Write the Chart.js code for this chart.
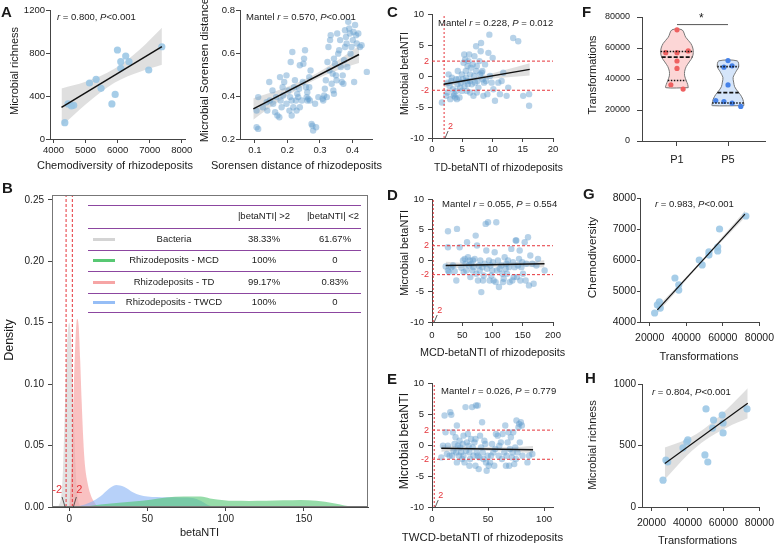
<!DOCTYPE html>
<html>
<head>
<meta charset="utf-8">
<script src="https://cdn.jsdelivr.net/npm/chart.js@4.4.1/dist/chart.umd.min.js"></script>
<style>
body { margin:0; width:780px; height:545px; overflow:hidden; background:#fff; position:relative;
  font-family:"Liberation Sans", Arial, Helvetica, sans-serif; color:#1a1a1a; }
canvas { position:absolute; }
.lt { position:absolute; font-weight:bold; font-size:15px; line-height:15px; }
.ann { position:absolute; font-size:9.5px; line-height:12px; white-space:nowrap; }
.tl { position:absolute; left:88px; width:273px; height:1px; background:rgb(140,70,160); }
.tc { position:absolute; font-size:9.5px; line-height:12px; white-space:nowrap; transform:translate(-50%,-50%); }
.sw { position:absolute; left:93px; width:22px; height:3px; }
</style>
</head>
<body>
<script>
// ---- data ----
// A (left): chemodiversity vs microbial richness
const aChemo = [4354, 4455, 4560, 4630, 5123, 5329, 5483, 5821, 5923, 5994, 6098, 6098, 6252, 6354, 6969, 7378];
const aRich = [152, 326, 307, 313, 521, 555, 471, 326, 415, 828, 719, 657, 772, 719, 642, 858];
const aFitX = [4250, 7380], aFitY = [295, 860];
const aBandX = [4250, 5000, 5900, 6700, 7380];
const aBandLo = [120, 322, 523, 626, 690];
const aBandHi = [470, 532, 653, 836, 1035];

// A (right): Sorensen distances
const sorX = [0.110,0.110,0.105,0.124,0.136,0.138,0.146,0.144,0.154,0.156,0.162,0.165,0.169,0.175,0.177,0.179,0.182,0.185,0.187,0.190,0.197,0.197,0.203,0.206,0.208,0.210,0.213,0.213,0.215,0.218,0.220,0.223,0.226,0.228,0.230,0.233,0.236,0.238,0.238,0.244,0.247,0.249,0.251,0.254,0.257,0.259,0.261,0.261,0.264,0.267,0.267,0.269,0.271,0.274,0.277,0.279,0.288,0.285,0.295,0.308,0.310,0.313,0.315,0.318,0.321,0.323,0.326,0.329,0.331,0.333,0.336,0.339,0.341,0.343,0.343,0.346,0.349,0.351,0.353,0.356,0.359,0.362,0.364,0.367,0.370,0.372,0.374,0.377,0.377,0.380,0.382,0.384,0.387,0.390,0.392,0.394,0.397,0.401,0.403,0.405,0.408,0.411,0.413,0.418,0.423,0.428,0.444,0.105];
const sorY = [0.395,0.247,0.332,0.348,0.371,0.332,0.379,0.465,0.426,0.364,0.325,0.395,0.309,0.301,0.488,0.379,0.348,0.441,0.402,0.465,0.496,0.364,0.426,0.332,0.395,0.558,0.379,0.309,0.605,0.348,0.441,0.473,0.379,0.332,0.410,0.395,0.434,0.348,0.543,0.379,0.465,0.550,0.574,0.613,0.441,0.395,0.379,0.418,0.387,0.488,0.441,0.379,0.519,0.270,0.262,0.239,0.255,0.364,0.395,0.387,0.379,0.402,0.434,0.473,0.395,0.558,0.628,0.519,0.660,0.683,0.457,0.504,0.426,0.410,0.574,0.550,0.496,0.473,0.691,0.597,0.613,0.660,0.535,0.465,0.496,0.457,0.566,0.628,0.706,0.675,0.644,0.535,0.745,0.714,0.691,0.597,0.628,0.660,0.698,0.465,0.730,0.683,0.644,0.691,0.628,0.636,0.512,0.255];
const sorFitX = [0.095, 0.42], sorFitY = [0.34, 0.593];
const sorBandX = [0.095, 0.18, 0.27, 0.35, 0.42];
const sorBandLo = [0.29, 0.381, 0.464, 0.518, 0.553];
const sorBandHi = [0.39, 0.431, 0.490, 0.562, 0.633];

// B: density of betaNTI
const bacX = [-7, -5, -4, -3, -2, -1, 0, 1, 2, 3, 4, 5, 7];
const bacD = [0, 0.01, 0.03, 0.07, 0.11, 0.14, 0.15, 0.14, 0.11, 0.07, 0.035, 0.012, 0];
const tdDX = [0, 1, 2, 3, 4, 5, 6, 7, 8, 9, 10, 12, 14, 16, 18];
const tdD = [0, 0.02, 0.045, 0.1, 0.135, 0.153, 0.148, 0.12, 0.085, 0.055, 0.035, 0.018, 0.009, 0.004, 0];
const twDX = [4, 10, 14, 20, 25, 30, 35, 41, 45, 50, 62, 72, 79, 84, 88, 92];
const twD = [0, 0.002, 0.004, 0.0087, 0.0145, 0.018, 0.0165, 0.0118, 0.0098, 0.0086, 0.008, 0.0078, 0.0073, 0.005, 0.002, 0];
const mcdDX = [8, 20, 30, 41, 52, 62, 73, 84, 90, 99, 105, 115, 126, 137, 148, 158, 169, 176, 182];
const mcdD = [0, 0.002, 0.0032, 0.0045, 0.006, 0.0078, 0.0086, 0.0085, 0.007, 0.0055, 0.005, 0.0049, 0.005, 0.0054, 0.0057, 0.005, 0.003, 0.0012, 0];
const tabNames = ['Bacteria', 'Rhizodeposits - MCD', 'Rhizodeposits - TD', 'Rhizodeposits - TWCD'];
const tabGt2 = ['38.33%', '100%', '99.17%', '100%'];
const tabLt2 = ['61.67%', '0', '0.83%', '0'];

// C: TD-betaNTI
const tdX = [1.64,2.36,2.58,2.74,2.90,3.01,3.18,3.45,3.56,3.67,3.84,4.00,4.11,4.22,4.27,4.38,4.55,4.66,4.77,4.93,5.10,5.21,5.32,5.37,5.48,5.59,5.64,5.75,5.86,5.92,6.03,6.14,6.30,6.30,6.41,6.58,6.74,6.85,6.96,7.01,7.12,7.29,7.29,7.40,7.51,7.67,7.84,7.95,8.05,8.11,8.22,8.33,8.38,8.49,8.60,8.77,8.93,9.15,9.32,9.48,9.59,9.86,10.03,10.14,10.41,10.96,11.23,11.51,11.78,12.33,12.60,13.42,14.25,15.07,16.05,16.05,2.58,3.29,4.00,4.93,5.75,6.30,7.40];
const tdY = [-4.27,-3.2,-2.67,0.27,-1.6,-3.73,-0.8,-2.13,-3.2,-2.93,-3.47,-2.4,-3.73,-1.33,0.8,-0.53,-3.47,-1.87,-1.07,0.27,-0.53,2.13,3.47,-1.6,2.67,0.8,-0.27,-0.8,1.6,-1.33,2.4,3.47,0.27,-0.8,1.33,-1.33,1.87,-3.2,0,3.2,-1.07,0.8,4.8,1.6,-0.8,-1.87,2.4,0.27,4.0,5.33,0.53,0.8,-0.53,-3.2,-1.07,1.87,-0.8,-2.93,3.73,6.67,0,-1.07,2.93,-2.13,-4.0,-1.07,-2.93,-0.8,0.53,-3.2,-1.87,6.13,5.6,-3.2,-2.93,-4.8,-1.07,-0.27,-0.53,-2.4,-2.4,-2.67,-2.67];
const tdFitX = [1.92, 16.16], tdFitY = [-1.33, 1.07];
const tdBandX = [1.92, 5, 8, 12, 16.16];
const tdBandLo = [-1.83, -1.11, -0.61, -0.23, 0.07];
const tdBandHi = [-0.83, -0.51, -0.01, 0.97, 2.07];

// D: MCD-betaNTI
const mcdX = [22.6,26.4,26.4,28.1,32.0,37.5,40.2,41.3,45.7,48.5,51.2,52.3,54.0,55.6,56.7,57.9,59.5,61.2,62.3,63.4,65.0,66.7,67.8,68.9,70.5,72.2,73.3,74.4,76.0,77.7,78.8,79.9,81.5,83.2,84.3,85.4,87.1,88.7,89.8,90.9,92.6,94.2,95.3,96.4,98.1,99.7,100.8,101.9,103.6,105.2,106.3,107.4,109.1,110.7,111.8,114.6,116.3,117.4,118.5,120.1,121.8,122.9,124.0,125.6,127.3,128.4,131.1,132.8,133.9,135.0,136.6,138.3,139.4,140.5,142.1,143.8,144.9,146.0,147.7,149.3,150.4,153.2,154.8,155.9,158.7,160.3,162.5,165.8,168.0,172.5,175.2,186.2,26.4,34.7];
const mcdY = [-0.97,4.76,2.16,-1.89,-1.08,-1.73,-3.24,5.14,2.16,-1.19,0,-1.89,0.27,-0.54,-1.62,2.97,0.54,-0.81,0,-2.7,-0.54,-1.62,0,-1.08,0.27,4.05,-2.16,2.43,-3.24,-0.81,-1.62,0,-5.14,-1.08,-3.24,-2.43,-0.54,5.95,1.62,-1.35,6.22,0,-3.24,-0.81,-2.43,-1.62,-0.27,-3.24,1.35,-3.51,6.22,-1.62,0,-4.32,-1.35,-0.81,-2.16,-3.51,-2.97,0.54,-1.35,-0.54,-2.16,0,-1.08,-3.51,1.89,-3.24,-0.27,-2.7,-1.08,3.24,3.24,-2.7,-0.81,0.27,1.62,-3.24,-1.08,-0.27,-2.16,2.97,-3.24,-0.54,3.78,-4.05,0.81,-0.54,-3.78,-0.81,0.27,-1.62,-1.62,-0.81];
const mcdFitX = [22.6, 186], mcdFitY = [-0.81, -0.54];
const mcdBandX = [22.6, 60, 100, 140, 186];
const mcdBandLo = [-1.41, -1.1, -1.0, -0.96, -1.14];
const mcdBandHi = [-0.21, -0.4, -0.36, -0.26, 0.06];

// E: TWCD-betaNTI
const twX = [8.3,11.2,12.1,14.2,15.7,16.3,17.2,18.6,19.2,20.1,21.0,21.6,22.2,23.1,24.0,24.6,25.1,26.0,26.9,27.5,28.1,29.0,29.9,30.5,31.1,32.0,32.8,33.4,34.0,34.9,35.8,36.4,37.0,37.9,38.8,39.3,39.9,40.8,41.7,42.3,42.9,43.8,44.7,45.3,45.9,46.7,47.6,48.2,48.8,49.7,50.6,51.8,52.7,53.6,54.7,55.6,56.5,57.1,58.6,59.5,60.1,61.5,62.4,63.0,64.5,65.4,66.0,66.6,67.5,68.3,68.9,69.5,70.4,71.3,71.9,72.5,73.4,74.3,74.9,75.4,76.3,77.2,77.8,78.4,79.3,80.2,80.8,85.2,86.7,89.6,9.8,13.3,18.0,22.2,28.1,33.4,38.8,40.8];
const twY = [-2.0,4.76,2.05,-0.11,-1.73,5.3,4.86,2.05,-0.92,0.16,1.24,-1.19,3.14,-0.11,-1.73,0.7,-0.38,-1.19,-2.27,0.16,1.51,-2.81,6.11,-0.92,0.43,1.78,-0.11,-1.19,-2.27,0.97,6.11,-0.38,-1.73,0.43,0.97,6.38,-1.19,6.38,-3.89,-2.0,1.51,-0.38,3.68,-1.19,-2.27,0.7,0.16,-2.81,-4.16,-1.73,-3.35,-2.81,-1.73,0.16,-1.19,-3.35,-0.65,1.78,1.51,-1.73,-0.11,0.43,-2.27,1.78,-1.19,3.14,-3.35,-1.73,0.43,2.05,-3.35,-0.65,1.24,-2.0,-1.19,2.05,-3.08,-0.38,-2.27,3.95,-1.19,2.86,3.41,0.43,3.68,3.14,-1.73,-2.81,-1.73,-1.46,-0.11,-1.46,-1.73,-2.81,-1.73,-3.35,-3.35,-1.73];
const twFitX = [8.3, 90.2], twFitY = [-0.54, -0.76];
const twBandX = [8.3, 30, 50, 70, 90.2];
const twBandLo = [-1.1, -0.9, -0.95, -1.05, -1.35];
const twBandHi = [0.02, -0.3, -0.35, -0.37, -0.17];

// F: transformations, violins
const fCats = ['P1', 'P5'];
const p1Val = [71700, 57000, 57000, 58100, 51600, 46800, 36300, 33500];
const p1Jit = [0, -0.22, 0, 0.22, 0, 0, -0.12, 0.12];
const p5Val = [51900, 47600, 48500, 36200, 26100, 25500, 24400, 22300];
const p5Jit = [0, -0.08, 0.08, 0, -0.24, -0.08, 0.08, 0.25];
const p1Lv = [71700, 67000, 63000, 60000, 57000, 54000, 51000, 48000, 45000, 42000, 39000, 36500, 34400];
const p1Hw = [0.10, 0.17, 0.27, 0.31, 0.32, 0.30, 0.24, 0.18, 0.15, 0.15, 0.18, 0.21, 0.22];
const p5Lv = [51700, 48000, 45000, 41000, 38000, 35000, 32000, 30000, 27000, 24000, 22800];
const p5Hw = [0.18, 0.21, 0.16, 0.10, 0.11, 0.13, 0.19, 0.24, 0.29, 0.31, 0.31];
const p1Q = [57700, 54100, 39000], p1QW = [0.32, 0.30, 0.18];
const p5Q = [48000, 31200, 24500], p5QW = [0.21, 0.21, 0.31];
const sigY = 75100;

// G / H: transformations vs chemodiversity / richness
const gTrans = [22700, 24200, 25300, 25800, 33800, 35900, 35900, 47100, 48700, 52400, 52400, 57200, 57200, 58200, 72600];
const gChemo = [4290, 4550, 4650, 4450, 5420, 5200, 5030, 6000, 5840, 6260, 6160, 6290, 6420, 7000, 7420];
const gFitX = [24200, 72100], gFitY = [4390, 7480];
const gBandX = [24200, 48000, 72100], gBandLo = [4290, 5880, 7370], gBandHi = [4490, 5970, 7590];
const hTrans = [26400, 28000, 29000, 37500, 39600, 40200, 49700, 51300, 50300, 54500, 54000, 59300, 59800, 59800, 73100];
const hRich = [218, 382, 366, 480, 528, 545, 423, 366, 797, 707, 642, 748, 683, 602, 797];
const hFitX = [27400, 73500], hFitY = [354, 843];
const hBandX = [27400, 40000, 50000, 62000, 73500];
const hBandLo = [224, 423, 544, 647, 721];
const hBandHi = [484, 553, 644, 797, 965];

// ---- helpers ----
const FAM = '"Liberation Sans", Arial, Helvetica, sans-serif';
const AX = '#444', TXT = '#1a1a1a', RED = '#e5343a';
const PT1 = 'rgba(150,196,228,0.85)', PT2 = 'rgba(95,155,205,0.45)', BAND = 'rgba(185,185,185,0.45)';

// extra marks: box frame, red reference labels, and axis titles drawn without width squeezing
const extras = {
  id: 'extras',
  afterDraw(chart, args, o) {
    const { ctx, chartArea: a, scales: { x, y } } = chart;
    ctx.save();
    if (o.box) {
      ctx.strokeStyle = '#777'; ctx.lineWidth = 1;
      ctx.strokeRect(a.left + 0.5, a.top + 0.5, a.width - 1, a.height - 1);
    }
    ctx.fillStyle = RED;
    ctx.font = (o.fs || 9) + 'px ' + FAM;
    ctx.textBaseline = 'middle';
    (o.h || []).forEach(h => {
      ctx.textAlign = 'right';
      ctx.fillText(h.t, a.left - 3, y.getPixelForValue(h.v));
    });
    (o.v || []).forEach(v => {
      const px = x.getPixelForValue(v.v), b = a.bottom;
      ctx.strokeStyle = '#333'; ctx.lineWidth = 0.8;
      ctx.beginPath(); ctx.moveTo(px + v.s * 1, b); ctx.lineTo(px + v.s * 4, b - v.len); ctx.stroke();
      ctx.textAlign = v.s > 0 ? 'left' : 'right';
      ctx.fillText(v.t, px + v.s * 4, b - v.len - v.gap);
    });
    ctx.fillStyle = TXT;
    ctx.textAlign = 'center';
    if (o.xt) {
      ctx.font = (o.xt.fs || 11) + 'px ' + FAM;
      ctx.fillText(o.xt.t, o.xt.cx != null ? o.xt.cx : (a.left + a.right) / 2, o.xt.at);
    }
    if (o.yt) {
      ctx.font = (o.yt.fs || 11) + 'px ' + FAM;
      ctx.translate(o.yt.at, o.yt.cy != null ? o.yt.cy : (a.top + a.bottom) / 2);
      ctx.rotate(-Math.PI / 2);
      ctx.fillText(o.yt.t, 0, 0);
    }
    ctx.restore();
  }
};
Chart.register(extras);

function xy(xs, ys) { return xs.map((x, i) => ({ x, y: ys[i] })); }
function pts(xs, ys, color, r) {
  return { data: xy(xs, ys), showLine: false, pointRadius: r, pointBackgroundColor: color, pointBorderWidth: 0 };
}
function line(xs, ys, color, w, dash) {
  return { data: xy(xs, ys), showLine: true, pointRadius: 0, borderColor: color, borderWidth: w, borderDash: dash || [], fill: false };
}
function band(xs, lo, hi) {
  return [
    { data: xy(xs, hi), showLine: true, pointRadius: 0, borderWidth: 0, borderColor: 'rgba(0,0,0,0)', fill: '+1', backgroundColor: BAND, cubicInterpolationMode: 'monotone' },
    { data: xy(xs, lo), showLine: true, pointRadius: 0, borderWidth: 0, borderColor: 'rgba(0,0,0,0)', fill: false, cubicInterpolationMode: 'monotone' }
  ];
}
function dens(xs, ds, color) {
  return { data: xy(xs, ds), showLine: true, pointRadius: 0, borderWidth: 0, borderColor: 'rgba(0,0,0,0)', fill: 'origin', backgroundColor: color, cubicInterpolationMode: 'monotone' };
}
function scale(o) {
  return {
    type: 'linear', min: o.min, max: o.max,
    afterBuildTicks: s => { s.ticks = o.ticks.map(v => ({ value: v })); },
    afterFit: s => { if (s.isHorizontal()) s.height = o.fit; else s.width = o.fit; },
    grid: { display: true, drawOnChartArea: false, drawTicks: true, tickLength: o.tl || 4, color: AX, tickColor: AX },
    border: { display: true, color: AX, width: 1 },
    ticks: { font: { family: FAM, size: o.tf || 9.5 }, color: TXT, padding: o.tp == null ? 2 : o.tp, maxRotation: 0, autoSkip: false,
      callback: (v, i) => o.labels ? o.labels[i] : String(v) },
    title: { display: false }
  };
}
function panel(box, datasets, xs, ys, pad, plug) {
  const c = document.createElement('canvas');
  c.width = box[2]; c.height = box[3];
  c.style.left = box[0] + 'px'; c.style.top = box[1] + 'px';
  document.body.appendChild(c);
  return new Chart(c, {
    type: 'scatter',
    data: { datasets },
    options: {
      responsive: false, animation: false, events: [], devicePixelRatio: 1,
      layout: { padding: Object.assign({ left: 0, top: 0, right: 0, bottom: 0 }, pad) },
      scales: { x: xs, y: ys },
      plugins: { legend: { display: false }, tooltip: { enabled: false }, extras: plug || {} }
    }
  });
}
function violin(c, lv, hw) {
  const p = [];
  for (let i = lv.length - 1; i >= 0; i--) p.push({ x: c + hw[i], y: lv[i] });
  for (let i = 0; i < lv.length; i++) p.push({ x: c - hw[i], y: lv[i] });
  p.push(p[0]);
  return p;
}
function quarts(c, q, w) {
  return q.map((v, i) => ({
    data: [{ x: c - w[i], y: v }, { x: c + w[i], y: v }], showLine: true, pointRadius: 0,
    borderColor: '#111', borderWidth: i === 1 ? 1.8 : 1.6, borderDash: i === 1 ? [4, 2] : [1.5, 1.5]
  }));
}

// ---- A left ----
panel([0, 0, 200, 173], [
  line(aFitX, aFitY, '#111', 1.5),
  pts(aChemo, aRich, PT1, 3.6),
  ...band(aBandX, aBandLo, aBandHi)
], scale({ min: 3892, max: 8100, ticks: [4000, 5000, 6000, 7000, 8000], fit: 34, tp: 2 }),
   scale({ min: 0, max: 1200, ticks: [0, 400, 800, 1200], fit: 42, tp: 1 }),
   { left: 8, top: 10, right: 15 },
   { xt: { t: 'Chemodiversity of rhizodeposits', at: 166, cx: 115 }, yt: { t: 'Microbial richness', at: 15, cy: 71 } });

// ---- A right ----
panel([190, 0, 200, 173], [
  line(sorFitX, sorFitY, '#111', 1.5),
  pts(sorX, sorY, PT2, 3.2),
  ...band(sorBandX, sorBandLo, sorBandHi)
], scale({ min: 0.054, max: 0.46, ticks: [0.1, 0.2, 0.3, 0.4], labels: ['0.1', '0.2', '0.3', '0.4'], fit: 34, tp: 2 }),
   scale({ min: 0.2, max: 0.8, ticks: [0.2, 0.4, 0.6, 0.8], labels: ['0.2', '0.4', '0.6', '0.8'], fit: 42, tp: 1 }),
   { left: 8, top: 10, right: 18 },
   { xt: { t: 'Sorensen distance of rhizodeposits', at: 166, cx: 106.5 }, yt: { t: 'Microbial Sorensen distance', at: 15, cy: 70, fs: 11.5 } });

// ---- B ----
panel([0, 185, 375, 355], [
  line([-2, -2], [0, 0.254], RED, 1, [3, 2]),
  line([2, 2], [0, 0.254], RED, 1, [3, 2]),
  dens(mcdDX, mcdD, 'rgba(80,196,112,0.6)'),
  dens(twDX, twD, 'rgba(135,178,245,0.6)'),
  dens(tdDX, tdD, 'rgba(246,160,160,0.65)'),
  dens(bacX, bacD, 'rgba(200,200,200,0.55)')
], scale({ min: -11, max: 191, ticks: [0, 50, 100, 150], fit: 33, tp: 2, tf: 10 }),
   scale({ min: 0, max: 0.254, ticks: [0, 0.05, 0.1, 0.15, 0.2, 0.25], labels: ['0.00', '0.05', '0.10', '0.15', '0.20', '0.25'], fit: 49, tp: 4, tf: 10 }),
   { left: 3, top: 7, right: 7 },
   { box: true, fs: 11, v: [{ v: -2, t: '-2', s: -1, len: 10, gap: 7 }, { v: 2, t: '2', s: 1, len: 10, gap: 7 }],
     xt: { t: 'betaNTI', at: 348, cx: 199.5 }, yt: { t: 'Density', at: 10, cy: 155, fs: 12.5 } });

// ---- C, D, E ----
function beta(box, pad, xs, ys, fit, band3, xsc, xt, yt) {
  const xmin = xsc.min, xmax = xsc.max;
  return panel(box, [
    line(fit[0], fit[1], '#111', 1.5),
    line([xmin, xmax], [2.4, 2.4], RED, 1, [3, 2]),
    line([xmin, xmax], [-2.3, -2.3], RED, 1, [3, 2]),
    line([2, 2], [-10, 10], RED, 1, [2, 2]),
    pts(xs, ys, PT2, 3.2),
    ...band(band3[0], band3[1], band3[2])
  ], xsc,
    scale({ min: -10, max: 10, ticks: [-10, -5, 0, 5, 10], fit: 34, tp: 4 }),
    pad,
    { fs: 9, h: [{ v: 2.4, t: '2' }, { v: -2.3, t: '-2' }], v: [{ v: 2, t: '2', s: 1, len: 7, gap: 4 }], xt, yt });
}
beta([375, 0, 200, 175], { left: 23, top: 14, right: 22 }, tdX, tdY, [tdFitX, tdFitY], [tdBandX, tdBandLo, tdBandHi],
  scale({ min: 0, max: 20, ticks: [0, 5, 10, 15, 20], fit: 37, tp: 2 }),
  { t: 'TD-betaNTI of rhizodeposits', at: 168, fs: 10.3, cx: 123.5 },
  { t: 'Microbial betaNTI', at: 30, fs: 10.6, cy: 73.5 });
beta([375, 180, 200, 180], { left: 23, top: 19, right: 22 }, mcdX, mcdY, [mcdFitX, mcdFitY], [mcdBandX, mcdBandLo, mcdBandHi],
  scale({ min: 0, max: 200, ticks: [0, 50, 100, 150, 200], fit: 38, tp: 4 }),
  { t: 'MCD-betaNTI of rhizodeposits', at: 173, fs: 10.8, cx: 117.5 },
  { t: 'Microbial betaNTI', at: 30, fs: 11, cy: 73 });
beta([375, 363, 200, 182], { left: 23, top: 20, right: 22 }, twX, twY, [twFitX, twFitY], [twBandX, twBandLo, twBandHi],
  scale({ min: 0, max: 108, ticks: [0, 50, 100], fit: 38, tp: 3 }),
  { t: 'TWCD-betaNTI of rhizodeposits', at: 175, fs: 11.4, cx: 107.5 },
  { t: 'Microbial betaNTI', at: 30, fs: 12.3, cy: 78 });

// ---- F ----
panel([565, 0, 215, 171], [
  line([1, 2], [sigY, sigY], '#555', 1),
  ...quarts(1, p1Q, p1QW),
  ...quarts(2, p5Q, p5QW),
  pts(p1Jit.map(j => 1 + j), p1Val, 'rgb(238,96,96)', 2.6),
  pts(p5Jit.map(j => 2 + j), p5Val, 'rgb(70,130,232)', 2.6),
  { data: violin(1, p1Lv, p1Hw), showLine: true, pointRadius: 0, borderColor: '#777', borderWidth: 1, fill: 'shape', backgroundColor: 'rgba(252,210,210,0.9)', tension: 0.3 },
  { data: violin(2, p5Lv, p5Hw), showLine: true, pointRadius: 0, borderColor: '#777', borderWidth: 1, fill: 'shape', backgroundColor: 'rgba(208,226,250,0.9)', tension: 0.3 }
], scale({ min: 0.314, max: 2.725, ticks: [1, 2], labels: fCats, fit: 30, tp: 7, tf: 11, tl: 5 }),
   scale({ min: 0, max: 80000, ticks: [0, 20000, 40000, 60000, 80000], fit: 56, tp: 7, tf: 9, tl: 5 }),
   { left: 21, top: 17, right: 15 },
   { yt: { t: 'Transformations', at: 28, cy: 75 } });

// ---- G ----
panel([565, 180, 215, 183], [
  line(gFitX, gFitY, '#111', 1.2),
  pts(gTrans, gChemo, PT1, 3.6),
  ...band(gBandX, gBandLo, gBandHi)
], scale({ min: 14700, max: 80000, ticks: [20000, 40000, 60000, 80000], fit: 41, tp: 6, tf: 10.5 }),
   scale({ min: 4000, max: 8000, ticks: [4000, 5000, 6000, 7000, 8000], fit: 54, tp: 1, tf: 10.5, tl: 3 }),
   { left: 21, top: 18, right: 15 },
   { xt: { t: 'Transformations', at: 176.5, cx: 134 }, yt: { t: 'Chemodiversity', at: 28, cy: 77.5, fs: 11.8 } });

// ---- H ----
panel([565, 365, 215, 183], [
  line(hFitX, hFitY, '#111', 1.2),
  pts(hTrans, hRich, PT1, 3.6),
  ...band(hBandX, hBandLo, hBandHi)
], scale({ min: 14700, max: 80000, ticks: [20000, 40000, 60000, 80000], fit: 41, tp: 6, tf: 10.5 }),
   scale({ min: 0, max: 1000, ticks: [0, 500, 1000], fit: 56, tp: 2, tf: 10 }),
   { left: 21, top: 19, right: 15 },
   { xt: { t: 'Transformations', at: 176, cx: 132.5 }, yt: { t: 'Microbial richness', at: 28, cy: 80, fs: 11.2 } });

// ---- text overlays ----
function put(cls, html, left, top, extra) {
  const d = document.createElement('div');
  d.className = cls; d.innerHTML = html;
  d.style.left = left + 'px'; d.style.top = top + 'px';
  if (extra) Object.assign(d.style, extra);
  document.body.appendChild(d);
}
[['A', 1, 4], ['B', 2, 180], ['C', 387, 4], ['D', 387, 187], ['E', 387, 371], ['F', 582, 4], ['G', 583, 186], ['H', 585, 370]]
  .forEach(l => put('lt', l[0], l[1], l[2]));
put('ann', '<i>r</i> = 0.800, <i>P</i>&lt;0.001', 57, 11);
put('ann', 'Mantel <i>r</i> = 0.570, <i>P</i>&lt;0.001', 246, 11);
put('ann', 'Mantel <i>r</i> = 0.228, <i>P</i> = 0.012', 438, 17);
put('ann', 'Mantel <i>r</i> = 0.055, <i>P</i> = 0.554', 442, 198);
put('ann', 'Mantel <i>r</i> = 0.026, <i>P</i> = 0.779', 441, 385);
put('ann', '<i>r</i> = 0.983, <i>P</i>&lt;0.001', 655, 198);
put('ann', '<i>r</i> = 0.804, <i>P</i>&lt;0.001', 652, 386);
put('ann', '*', 699, 12, { fontSize: '12px' });

// table in B
[205, 228, 250, 271, 293, 312].forEach(y => put('tl', '', 88, y));
put('tc', '|betaNTI| &gt;2', 264, 216);
put('tc', '|betaNTI| &lt;2', 333, 216);
const rowY = [239, 260, 282, 302];
const swatch = ['rgb(212,212,212)', 'rgb(88,200,115)', 'rgb(246,165,165)', 'rgb(150,190,246)'];
tabNames.forEach((n, i) => {
  put('tc', n, 174, rowY[i]);
  put('tc', tabGt2[i], 264, rowY[i]);
  put('tc', tabLt2[i], 335, rowY[i]);
  put('sw', '', 93, rowY[i] - 1.5, { background: swatch[i] });
});
</script>
</body>
</html>
